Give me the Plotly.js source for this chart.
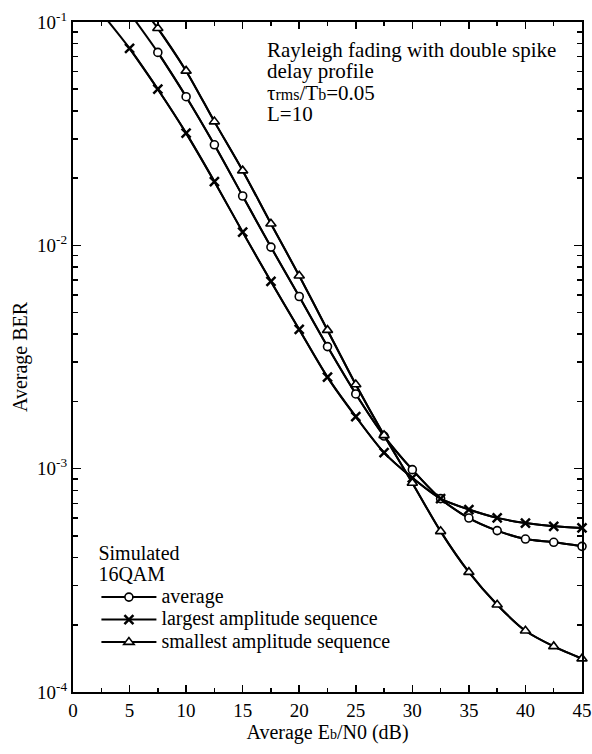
<!DOCTYPE html>
<html>
<head>
<meta charset="utf-8">
<script src="https://cdn.plot.ly/plotly-3.0.1.min.js"></script>
<style>html,body{margin:0;padding:0;background:#fff;}#chart{width:592px;height:754px;}</style>
</head>
<body>
<div id="chart"></div>
<script>
// Eb/N0 (dB) sample points
const ebnoLargest = [5, 7.5, 10, 12.5, 15, 17.5, 20, 22.5, 25, 27.5, 30, 32.5, 35, 37.5, 40, 42.5, 45];
const berLargest  = [0.0762, 0.0500, 0.0318, 0.0193, 0.01146, 0.00689, 0.0042, 0.00257, 0.00171, 0.00118, 0.00091, 0.000734, 0.000656, 0.000602, 0.000571, 0.000552, 0.000543];
const ebnoAverage = [7.5, 10, 12.5, 15, 17.5, 20, 22.5, 25, 27.5, 30, 32.5, 35, 37.5, 40, 42.5, 45];
const berAverage  = [0.0731, 0.0463, 0.0282, 0.01663, 0.00982, 0.0059, 0.00352, 0.00216, 0.0014, 0.00099, 0.000734, 0.000601, 0.000528, 0.000484, 0.000468, 0.000449];
const ebnoSmallest = [7.5, 10, 12.5, 15, 17.5, 20, 22.5, 25, 27.5, 30, 32.5, 35, 37.5, 40, 42.5, 45];
const berSmallest  = [0.0937, 0.0604, 0.0358, 0.0216, 0.0125, 0.00731, 0.00417, 0.00238, 0.00141, 0.000863, 0.000524, 0.000344, 0.000246, 0.000188, 0.000160, 0.000141];
// curve continuations above the top of the plot (no marker drawn there)
const leadLargestX = [2.5], leadLargestY = [0.110];
const leadAverageX = [5],   leadAverageY = [0.110];
const leadSmallestX = [5],  leadSmallestY = [0.135];

const yTickVals = [1e-4, 1e-3, 1e-2, 1e-1];
const yTickText = ['10<sup>-4</sup>', '10<sup>-3</sup>', '10<sup>-2</sup>', '10<sup>-1</sup>'];
const legendNames = ['average', 'largest amplitude sequence', 'smallest amplitude sequence'];
const legendTitle = ['Simulated', '16QAM'];
const noteLines = ['Rayleigh fading with double spike', 'delay profile',
  "τ<span style='font-size:16px'>rms</span>/T<span style='font-size:16px'>b</span>=0.05", 'L=10'];

const yMinor = [];
[1e-4, 1e-3, 1e-2].forEach(d => { for (let k = 2; k <= 9; k++) yMinor.push(k * d); });

const FONT = '"Liberation Serif", "Times New Roman", serif';
const big = t => "<span style='font-size:20px'>" + t + "</span>";
const lineStyle = {color: '#000', width: 2, shape: 'spline', smoothing: 0.8};

function curve(x, y) {
  return {x: x, y: y, mode: 'lines', line: lineStyle, showlegend: false, hoverinfo: 'skip'};
}
function marks(x, y, name, symbol, size) {
  return {x: x, y: y, name: big(name), mode: 'lines+markers', cliponaxis: false,
    line: lineStyle,
    marker: {symbol: symbol, size: size, color: '#fff', line: {color: '#000', width: 1.6}}};
}
function marksX(x, y, name) {
  return {x: x, y: y, name: big(name), mode: 'lines+markers', cliponaxis: false,
    line: lineStyle,
    marker: {symbol: 'x-thin', size: 9, color: '#000', line: {color: '#000', width: 2.5}}};
}

const data = [
  curve(leadAverageX.concat(ebnoAverage), leadAverageY.concat(berAverage)),
  curve(leadLargestX.concat(ebnoLargest), leadLargestY.concat(berLargest)),
  curve(leadSmallestX.concat(ebnoSmallest), leadSmallestY.concat(berSmallest)),
  marks(ebnoAverage, berAverage, legendNames[0], 'circle', 8),
  marksX(ebnoLargest, berLargest, legendNames[1]),
  marks(ebnoSmallest, berSmallest, legendNames[2], 'triangle-up', 9)
];

const axisCommon = {
  showline: true, linecolor: '#000', linewidth: 2, mirror: 'ticks',
  ticks: 'inside', tickcolor: '#000', tickwidth: 1.5,
  showgrid: false, zeroline: false,
  tickfont: {family: FONT, size: 19, color: '#000'}
};

const layout = {
  width: 592, height: 754,
  margin: {l: 73, r: 10, t: 22, b: 62},
  paper_bgcolor: '#fff', plot_bgcolor: '#fff',
  font: {family: FONT, color: '#000', size: 19},
  xaxis: Object.assign({}, axisCommon, {
    range: [0, 45], tick0: 0, dtick: 5, ticklen: 7,
    minor: {dtick: 2.5, ticks: 'inside', ticklen: 4, tickwidth: 1.5, tickcolor: '#000'},
    title: {text: "Average E<span style='font-size:14px'>b</span>/N0 (dB)", font: {family: FONT, size: 20, color: '#000'}, standoff: 4}
  }),
  yaxis: Object.assign({}, axisCommon, {
    type: 'log', range: [-4, -1],
    tickmode: 'array', tickvals: yTickVals, ticktext: yTickText, ticklen: 8,
    minor: {tickmode: 'array', tickvals: yMinor, ticks: 'inside', ticklen: 5, tickwidth: 1.5, tickcolor: '#000'},
    title: {text: 'Average BER', font: {family: FONT, size: 20, color: '#000'}, standoff: 4}
  }),
  showlegend: true,
  legend: {
    x: 0.046, y: 0.228, xanchor: 'left', yanchor: 'top',
    bgcolor: 'rgba(0,0,0,0)', borderwidth: 0,
    font: {family: FONT, size: 15, color: '#000'},
    title: {text: legendTitle.map(big).join('<br>'), font: {family: FONT, size: 16, color: '#000'}},
    itemwidth: 55, tracegroupgap: 0
  },
  annotations: [{
    text: noteLines.map(t => "<span style='font-size:21px'>" + t + "</span>").join('<br>'),
    x: 0.377, y: 0.979, xref: 'paper', yref: 'paper', xanchor: 'left', yanchor: 'top',
    align: 'left', showarrow: false,
    font: {family: FONT, size: 16.5, color: '#000'}
  }]
};

Plotly.newPlot('chart', data, layout, {displayModeBar: false, staticPlot: true});
</script>
</body>
</html>
